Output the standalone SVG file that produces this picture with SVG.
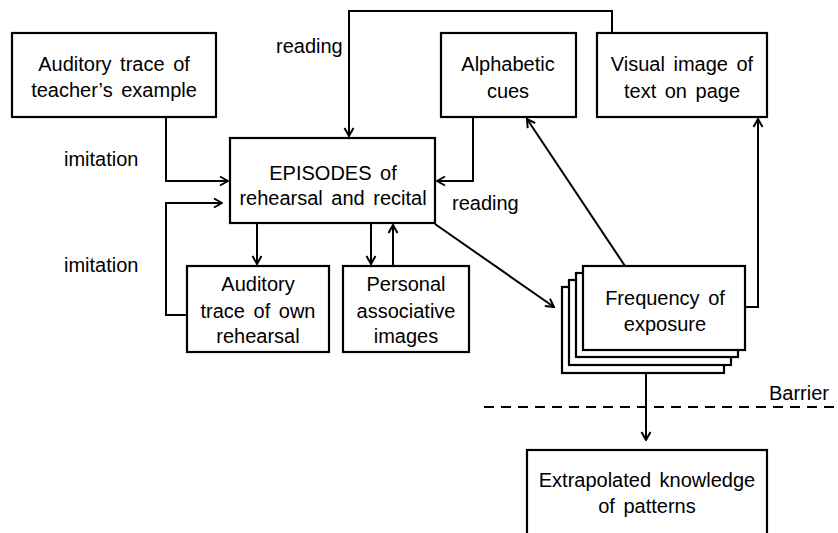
<svg xmlns="http://www.w3.org/2000/svg" width="838" height="533" viewBox="0 0 838 533">
<defs>
<marker id="arr" viewBox="0 0 12 12" refX="11" refY="6" markerWidth="12" markerHeight="12" markerUnits="userSpaceOnUse" orient="auto">
<path d="M3,1.5 L11,6 L3,10.5" fill="none" stroke="#000" stroke-width="2"/>
</marker>
</defs>
<style>
.box{fill:#fff;stroke:#000;stroke-width:2.2}
.t{font-family:"Liberation Sans",Arial,sans-serif;font-size:20px;word-spacing:3px;fill:#000;text-anchor:middle}
.l{font-family:"Liberation Sans",Arial,sans-serif;font-size:20px;fill:#000}
.c{fill:none;stroke:#000;stroke-width:2}
</style>
<rect width="838" height="533" fill="#fff"/>
<g id="connectors">
<path class="c" d="M612,33 V11 H349 V136" marker-end="url(#arr)"/>
<path class="c" d="M166,117 V181 H228" marker-end="url(#arr)"/>
<path class="c" d="M187,315 H166 V203 H222" marker-end="url(#arr)"/>
<path class="c" d="M473,117 V181 H437" marker-end="url(#arr)"/>
<path class="c" d="M257,223 V264" marker-end="url(#arr)"/>
<path class="c" d="M371,223 V264" marker-end="url(#arr)"/>
<path class="c" d="M393,266 V225" marker-end="url(#arr)"/>
<path class="c" d="M435,224 L554,307" marker-end="url(#arr)"/>
<path class="c" d="M625,266 L527,119" marker-end="url(#arr)"/>
<path class="c" d="M745,307 H758 V119" marker-end="url(#arr)"/>
<path class="c" d="M646,373 V440" marker-end="url(#arr)"/>
<path d="M484,407 H838" fill="none" stroke="#000" stroke-width="2" stroke-dasharray="10,7"/>
</g>
<g id="labels">
<text class="l" x="276" y="53">reading</text>
<text class="l" x="64" y="166">imitation</text>
<text class="l" x="64" y="272">imitation</text>
<text class="l" x="452" y="210">reading</text>
<text class="l" x="769" y="400">Barrier</text>
</g>
<g id="teacher">
<rect class="box" x="12" y="33" width="204" height="84"/>
<text class="t" x="114" y="71">Auditory trace of</text>
<text class="t" x="114" y="97">teacher’s example</text>
</g>
<g id="episodes">
<rect class="box" x="230" y="138" width="205" height="85"/>
<text class="t" x="333" y="180">EPISODES of</text>
<text class="t" x="333" y="205">rehearsal and recital</text>
</g>
<g id="alphabetic">
<rect class="box" x="441" y="33" width="135" height="84"/>
<text class="t" x="508" y="71">Alphabetic</text>
<text class="t" x="508" y="98">cues</text>
</g>
<g id="visual">
<rect class="box" x="597" y="33" width="170" height="84"/>
<text class="t" x="682" y="71">Visual image of</text>
<text class="t" x="682" y="98">text on page</text>
</g>
<g id="own">
<rect class="box" x="187" y="266" width="142" height="86"/>
<text class="t" x="258" y="291">Auditory</text>
<text class="t" x="258" y="318">trace of own</text>
<text class="t" x="258" y="343">rehearsal</text>
</g>
<g id="personal">
<rect class="box" x="343" y="266" width="126" height="86"/>
<text class="t" x="406" y="291">Personal</text>
<text class="t" x="406" y="318">associative</text>
<text class="t" x="406" y="343">images</text>
</g>
<g id="frequency">
<rect class="box" x="562" y="287" width="162" height="86"/>
<rect class="box" x="569" y="280" width="162" height="85"/>
<rect class="box" x="576" y="273" width="162" height="84"/>
<rect class="box" x="583" y="266" width="162" height="84"/>
<text class="t" x="665" y="305">Frequency of</text>
<text class="t" x="665" y="331">exposure</text>
</g>
<g id="extrapolated">
<rect class="box" x="527" y="450" width="240" height="100"/>
<text class="t" x="647" y="487">Extrapolated knowledge</text>
<text class="t" x="647" y="513">of patterns</text>
</g>
</svg>
